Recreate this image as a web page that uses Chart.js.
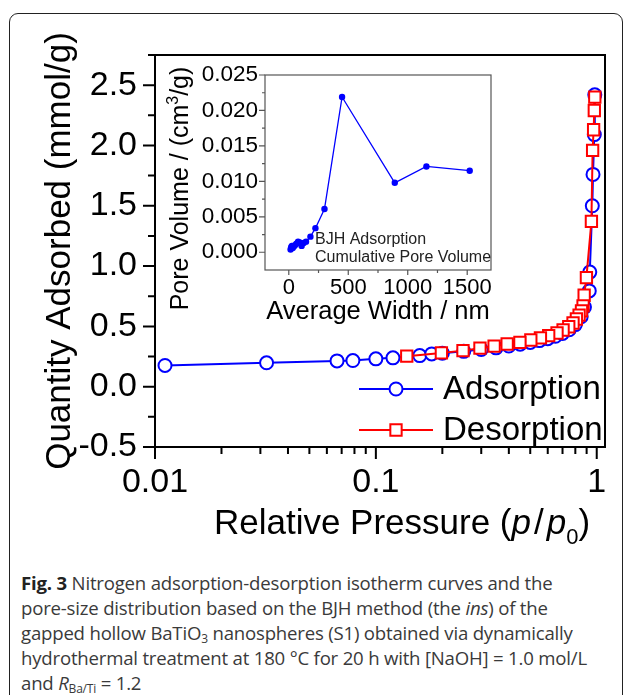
<!DOCTYPE html>
<html>
<head>
<meta charset="utf-8">
<script src="https://cdn.jsdelivr.net/npm/chart.js@4.4.0/dist/chart.umd.min.js"></script>
<style>
  body { margin: 0; background: #fff; width: 629px; height: 695px; overflow: hidden; position: relative; }
  #frame { position: absolute; left: 9px; top: 13px; width: 614px; height: 720px; border: 1.5px solid #222; border-radius: 9px; box-sizing: border-box; }
  #main { position: absolute; left: 0; top: 0; }
  #inset { position: absolute; left: 160px; top: 40px; }
  #caption { position: absolute; left: 21px; top: 570px; font-family: "Open Sans", sans-serif; font-size: 18.6px; line-height: 25px; color: #3a3a3a; white-space: nowrap; letter-spacing: -0.2px; }
  #caption b { color: #222; }
  #caption sub { font-size: 12px; vertical-align: -3px; line-height: 0; }
</style>
</head>
<body>
<div id="frame"></div>
<canvas id="main" width="629" height="560"></canvas>
<canvas id="inset" width="340" height="290"></canvas>
<div id="caption"><b>Fig. 3</b> Nitrogen adsorption-desorption isotherm curves and the<br>pore-size distribution based on the BJH method (the <i>ins</i>) of the<br>gapped hollow BaTiO<sub>3</sub> nanospheres (S1) obtained via dynamically<br>hydrothermal treatment at 180 °C for 20 h with [NaOH] = 1.0 mol/L<br>and <i>R</i><sub>Ba/Ti</sub> = 1.2</div>
<script>
// isotherm, adsorption branch (p/p0 , mmol/g)
const adsP = [0.0111, 0.032, 0.0667, 0.0787, 0.1, 0.1195, 0.158, 0.179, 0.2, 0.25, 0.3, 0.35, 0.4, 0.45, 0.5, 0.55, 0.6, 0.65, 0.7, 0.75, 0.8, 0.85, 0.88, 0.925, 0.93, 0.955, 0.962, 0.975, 0.98];
const adsQ = [0.176, 0.198, 0.214, 0.217, 0.231, 0.239, 0.258, 0.272, 0.278, 0.293, 0.308, 0.322, 0.337, 0.352, 0.367, 0.382, 0.398, 0.418, 0.442, 0.472, 0.515, 0.58, 0.66, 0.794, 0.95, 1.50, 1.76, 2.09, 2.42];
// desorption branch
const desP = [0.98, 0.975, 0.968, 0.958, 0.946, 0.898, 0.877, 0.867, 0.853, 0.832, 0.809, 0.781, 0.747, 0.704, 0.661, 0.606, 0.556, 0.503, 0.449, 0.393, 0.343, 0.296, 0.248, 0.198, 0.138];
const desQ = [2.40, 2.29, 2.13, 1.96, 1.37, 0.904, 0.758, 0.670, 0.629, 0.594, 0.561, 0.528, 0.497, 0.470, 0.445, 0.423, 0.404, 0.387, 0.368, 0.354, 0.336, 0.319, 0.299, 0.280, 0.253];

// inset: BJH cumulative pore volume
const widthNm = [15, 20, 26, 33, 42, 52, 64, 78, 92, 108, 125, 145, 182, 224, 300, 448, 891, 1157, 1521];
const poreVol = [0.0004, 0.0007, 0.0009, 0.0006, 0.0008, 0.0010, 0.0012, 0.0015, 0.0014, 0.0009, 0.0013, 0.0015, 0.0022, 0.0034, 0.0061, 0.0219, 0.0098, 0.0121, 0.0115];

// ticks
const xMajor = [0.01, 0.1, 1];
const xLabels = ['0.01', '0.1', '1'];
const yMajor = [-0.5, 0, 0.5, 1, 1.5, 2, 2.5];
const yLabels = ['-0.5', '0.0', '0.5', '1.0', '1.5', '2.0', '2.5'];
const insetXMajor = [0, 500, 1000, 1500];
const insetXLabels = ['0', '500', '1000', '1500'];
const insetYMajor = [0, 0.005, 0.01, 0.015, 0.02, 0.025];
const insetYLabels = ['0.000', '0.005', '0.010', '0.015', '0.020', '0.025'];

const seriesNames = ['Adsorption', 'Desorption'];
const insetNote = ['BJH Adsorption', 'Cumulative Pore Volume'];

Chart.defaults.font.family = '"Liberation Sans", Arial, sans-serif';
Chart.defaults.color = '#000';
const fam = Chart.defaults.font.family;

function pairs(xs, ys) { return xs.map((x, i) => ({x: x, y: ys[i]})); }

// log minor ticks 2..9 per decade
let xTicks = [];
for (let d = 0; d < 2; d++) {
    for (let k = 1; k < 10; k++) xTicks.push(+(k * xMajor[d]).toPrecision(3));
}
xTicks.push(1);
let yTicks = [];
for (let v = -0.5; v <= 2.751; v += 0.25) yTicks.push(+v.toFixed(2));
let insetXTicks = [];
for (let v = 0; v <= 1500; v += 250) insetXTicks.push(v);
let insetYTicks = [];
for (let v = 0; v <= 0.02501; v += 0.0025) insetYTicks.push(+v.toFixed(4));

function labelFrom(majors, labels) {
    return (v) => {
        const i = majors.findIndex(m => Math.abs(m - v) < 1e-9);
        return i >= 0 ? labels[i] : '';
    };
}

// writes a run of text pieces (font style, size, baseline shift, gap after)
function drawRich(ctx, parts, cx, base) {
    let total = 0;
    parts.forEach(p => { ctx.font = p[1] + p[2] + 'px ' + fam; total += ctx.measureText(p[0]).width + p[4]; });
    let x = cx - total / 2;
    parts.forEach(p => {
        ctx.font = p[1] + p[2] + 'px ' + fam;
        ctx.fillText(p[0], x, base + p[3]);
        x += ctx.measureText(p[0]).width + p[4];
    });
}

// box around plot area + ticks of two lengths
const frameTicks = {
    id: 'frameTicks',
    afterDraw(chart, args, o) {
        const ctx = chart.ctx, a = chart.chartArea;
        const xs = chart.scales.x, ys = chart.scales.y;
        ctx.save();
        ctx.strokeStyle = o.color;
        ctx.lineWidth = o.width;
        ctx.strokeRect(a.left, a.top, a.right - a.left, a.bottom - a.top);
        ctx.beginPath();
        xs.ticks.forEach(t => {
            const px = xs.getPixelForValue(t.value);
            ctx.moveTo(px, a.bottom);
            ctx.lineTo(px, a.bottom + (t.label ? o.xMajor : o.xMinor));
        });
        ys.ticks.forEach(t => {
            const py = ys.getPixelForValue(t.value);
            ctx.moveTo(a.left, py);
            ctx.lineTo(a.left - (t.label ? o.yMajor : o.yMinor), py);
        });
        ctx.stroke();
        ctx.restore();
    }
};

// x title with italic p and subscript 0
const xTitle = {
    id: 'xTitle',
    afterDraw(chart) {
        const ctx = chart.ctx, a = chart.chartArea;
        ctx.save();
        ctx.fillStyle = '#000';
        ctx.textBaseline = 'alphabetic';
        drawRich(ctx, [
            ['Relative Pressure (', '', 35, 0, 0],
            ['p', 'italic ', 35, 0, 3],
            ['/', '', 35, 0, 3],
            ['p', 'italic ', 35, 0, 0],
            ['0', '', 22, 10, 0],
            [')', '', 35, 0, 0]
        ], (a.left + a.right) / 2 + 22, a.bottom + 87);
        ctx.restore();
    }
};

// legend: line with marker in the middle
const lineLegend = {
    id: 'lineLegend',
    afterDraw(chart) {
        const ctx = chart.ctx, a = chart.chartArea;
        ctx.save();
        chart.data.datasets.forEach((ds, i) => {
            const y = 389 + i * 41;
            const x0 = a.right - 246, x1 = a.right - 172, xm = (x0 + x1) / 2;
            ctx.strokeStyle = ds.borderColor;
            ctx.lineWidth = 2;
            ctx.beginPath(); ctx.moveTo(x0, y); ctx.lineTo(x1, y); ctx.stroke();
            ctx.fillStyle = '#fff';
            ctx.beginPath();
            if (ds.pointStyle === 'rect') {
                const s = ds.pointRadius * Math.SQRT1_2;
                ctx.rect(xm - s, y - s, 2 * s, 2 * s);
            } else {
                ctx.arc(xm, y, ds.pointRadius, 0, Math.PI * 2);
            }
            ctx.fill(); ctx.stroke();
            ctx.fillStyle = '#000';
            ctx.font = '33px ' + fam;
            ctx.textBaseline = 'middle';
            ctx.fillText(ds.label, x1 + 10, y + 1);
        });
        ctx.restore();
    }
};

// inset note and rotated y title (cm3 with superscript)
const insetText = {
    id: 'insetText',
    afterDraw(chart) {
        const ctx = chart.ctx, a = chart.chartArea;
        ctx.save();
        ctx.fillStyle = '#222';
        ctx.font = '16px ' + fam;
        ctx.textBaseline = 'middle';
        insetNote.forEach((t, i) => ctx.fillText(t, a.left + 50, a.bottom - 30 + i * 18));
        ctx.fillStyle = '#000';
        ctx.textBaseline = 'alphabetic';
        ctx.translate(a.left - 86, (a.top + a.bottom) / 2 + 16);
        ctx.rotate(-Math.PI / 2);
        drawRich(ctx, [
            ['Pore Volume / (cm', '', 25, 0, 0],
            ['3', '', 16, -10, 0],
            ['/g)', '', 25, 0, 0]
        ], 0, 9);
        ctx.restore();
    }
};

let mainCtx = document.querySelector('#main');
let mainChart = new Chart(mainCtx, {
    type: 'scatter',
    data: {
        datasets: [
            {
                label: seriesNames[0], data: pairs(adsP, adsQ), showLine: true,
                borderColor: '#0000ff', borderWidth: 2,
                pointStyle: 'circle', pointRadius: 6.5, pointBorderWidth: 2,
                pointBorderColor: '#0000ff', pointBackgroundColor: '#fff', order: 2
            },
            {
                label: seriesNames[1], data: pairs(desP, desQ), showLine: true,
                borderColor: '#ff0000', borderWidth: 2,
                pointStyle: 'rect', pointRadius: 8, pointBorderWidth: 2,
                pointBorderColor: '#ff0000', pointBackgroundColor: '#fff', order: 1
            }
        ]
    },
    options: {
        responsive: false,
        animation: false,
        devicePixelRatio: 1,
        layout: { padding: { left: 0, right: 24, top: 55, bottom: 0 } },
        plugins: {
            legend: { display: false },
            tooltip: { enabled: false },
            frameTicks: { color: '#000', width: 2, xMajor: 12, xMinor: 7, yMajor: 12, yMinor: 7 }
        },
        scales: {
            x: {
                type: 'logarithmic', min: 0.01, max: 1.09,
                afterBuildTicks: (s) => { s.ticks = xTicks.map(v => ({value: v})); },
                afterFit: (s) => { s.height = 113; },
                grid: { drawOnChartArea: false, drawTicks: true, tickLength: 12, tickColor: 'transparent' },
                border: { display: false },
                ticks: { autoSkip: false, maxRotation: 0, padding: 3, font: { size: 34 }, callback: labelFrom(xMajor, xLabels) }
            },
            y: {
                min: -0.5, max: 2.75,
                afterBuildTicks: (s) => { s.ticks = yTicks.map(v => ({value: v})); },
                afterFit: (s) => { s.width = 155; },
                grid: { drawOnChartArea: false, drawTicks: true, tickLength: 12, tickColor: 'transparent' },
                border: { display: false },
                ticks: { autoSkip: false, padding: 6, font: { size: 34 }, callback: labelFrom(yMajor, yLabels) },
                title: { display: true, text: 'Quantity Adsorbed (mmol/g)', font: { size: 35 }, padding: { top: 39, bottom: 0 } }
            }
        }
    },
    plugins: [frameTicks, xTitle, lineLegend]
});

let insetCtx = document.querySelector('#inset');
let insetChart = new Chart(insetCtx, {
    type: 'scatter',
    data: {
        datasets: [{
            label: insetNote.join(' '), data: pairs(widthNm, poreVol), showLine: true,
            borderColor: '#0000ff', borderWidth: 1.3,
            pointRadius: 3.2, pointBorderWidth: 0, pointBackgroundColor: '#0000ff'
        }]
    },
    options: {
        responsive: false,
        animation: false,
        devicePixelRatio: 1,
        layout: { padding: { left: 0, right: 9, top: 35, bottom: 0 } },
        plugins: {
            legend: { display: false },
            tooltip: { enabled: false },
            frameTicks: { color: '#555', width: 1.2, xMajor: 5, xMinor: 3, yMajor: 6, yMinor: 3 }
        },
        scales: {
            x: {
                min: -200, max: 1700,
                afterBuildTicks: (s) => { s.ticks = insetXTicks.map(v => ({value: v})); },
                afterFit: (s) => { s.height = 60; },
                grid: { drawOnChartArea: false, drawTicks: true, tickLength: 5, tickColor: 'transparent' },
                border: { display: false },
                ticks: { autoSkip: false, maxRotation: 0, padding: 0, font: { size: 22 }, callback: labelFrom(insetXMajor, insetXLabels) },
                title: { display: true, text: 'Average Width / nm', font: { size: 25.5 }, padding: { top: 0, bottom: 3 } }
            },
            y: {
                min: -0.0025, max: 0.025,
                afterBuildTicks: (s) => { s.ticks = insetYTicks.map(v => ({value: v})); },
                afterFit: (s) => { s.width = 105; },
                grid: { drawOnChartArea: false, drawTicks: true, tickLength: 6, tickColor: 'transparent' },
                border: { display: false },
                ticks: { autoSkip: false, padding: 1, font: { size: 22.5 }, callback: labelFrom(insetYMajor, insetYLabels) }
            }
        }
    },
    plugins: [frameTicks, insetText]
});
</script>
</body>
</html>
